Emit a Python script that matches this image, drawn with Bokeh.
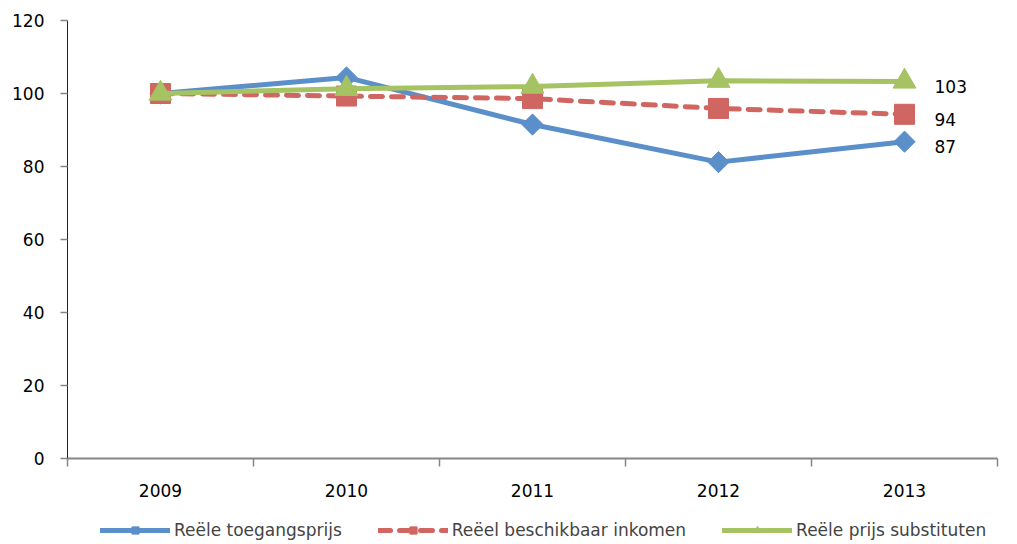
from bokeh.plotting import figure
from bokeh.layouts import column
from bokeh.models import Range1d, FixedTicker, Legend, LegendItem, ColumnDataSource
from bokeh.embed import file_html
from bokeh.resources import INLINE
from bokeh.core.properties import value

years = ["2009", "2010", "2011", "2012", "2013"]
toegangsprijs = [100, 104.4, 91.5, 81.2, 86.8]
inkomen = [100, 99.3, 98.6, 95.9, 94.3]
substituten = [100, 101.3, 101.9, 103.5, 103.3]
series_names = ["Reële toegangsprijs", "Reëel beschikbaar inkomen", "Reële prijs substituten"]
y_ticks = [0, 20, 40, 60, 80, 100, 120]

FONT = "DejaVu Sans"
BLUE = "#5b8fc9"
RED = "#cf6661"
GREEN = "#a6c364"

x = [i + 0.5 for i in range(len(years))]

p = figure(width=1010, height=510,
           output_backend="svg", toolbar_location=None,
           x_range=Range1d(0, len(years)), y_range=Range1d(y_ticks[0], y_ticks[-1]),
           min_border_left=67, min_border_top=20, min_border_right=13, min_border_bottom=52)
p.grid.visible = False
p.outline_line_color = None
p.background_fill_color = "white"
p.border_fill_color = "white"

# x axis
xa = p.xaxis[0]
xa.ticker = FixedTicker(ticks=x, minor_ticks=list(range(len(years) + 1)))
xa.major_label_overrides = {xi: yr for xi, yr in zip(x, years)}
xa.major_tick_out = 0
xa.major_tick_in = 0
xa.minor_tick_out = 8
xa.minor_tick_in = 0
xa.minor_tick_line_color = "#868686"
xa.minor_tick_line_width = 1.5
xa.axis_line_color = "#868686"
xa.axis_line_width = 2
xa.major_label_standoff = 17
xa.major_label_text_font = FONT
xa.major_label_text_font_size = "17px"
xa.major_label_text_color = "#000000"

# y axis
ya = p.yaxis[0]
ya.ticker = FixedTicker(ticks=y_ticks)
ya.major_tick_out = 7
ya.major_tick_in = 0
ya.major_tick_line_color = "#868686"
ya.major_tick_line_width = 1.5
ya.axis_line_color = "#222222"
ya.axis_line_width = 1
ya.major_label_standoff = 16
ya.major_label_text_font = FONT
ya.major_label_text_font_size = "17px"
ya.major_label_text_color = "#000000"

# legend strip (separate small figure below the chart)
p2 = figure(width=1010, height=34, output_backend="svg", toolbar_location=None,
            x_range=Range1d(-20, -19), y_range=Range1d(-20, -19),
            x_axis_location=None, y_axis_location=None, min_border=0)
p2.grid.visible = False
p2.outline_line_color = None
p2.background_fill_color = "white"
p2.border_fill_color = "white"

items = []
specs = [
    (toegangsprijs, BLUE, "solid", "square", 15, 0.785398),
    (inkomen, RED, "12 9", "square", 20, 0),
    (substituten, GREEN, "solid", "triangle", 23, 0),
]
for name, (vals, col, dash, marker, size, ang) in zip(series_names, specs):
    src = ColumnDataSource(dict(x=x, y=vals))
    p.line("x", "y", source=src, line_color=col, line_width=5, line_dash=dash, line_cap="round")
    p.scatter("x", "y", source=src, marker=marker, size=size, angle=ang,
              fill_color=col, line_color=col)
    lab = ColumnDataSource(dict(x=[x[-1]], y=[vals[-1]], t=[str(round(vals[-1]))]))
    p.text("x", "y", text="t", source=lab, x_offset=30, y_offset=5, text_baseline="middle",
           text_font=value(FONT), text_font_size="17px", text_color="#000000")
    # legend glyph renderers (data lies outside this strip's view)
    lr = p2.line("x", "y", source=src, line_color=col, line_width=5, line_dash=dash, line_cap="round")
    sr = p2.scatter("x", "y", source=src, marker=marker, size=size, angle=ang,
                    fill_color=col, line_color=col)
    items.append(LegendItem(label=name, renderers=[lr, sr]))

legend = Legend(items=items, orientation="horizontal", location=(33, 4),
                glyph_width=70, glyph_height=18, label_text_font=FONT,
                label_text_font_size="17px", label_standoff=4, spacing=36,
                border_line_color=None, background_fill_alpha=0, padding=0, margin=0)
p2.add_layout(legend, "center")

layout = column(p, p2, spacing=0)
open("out.html", "w").write(file_html(layout, INLINE))
